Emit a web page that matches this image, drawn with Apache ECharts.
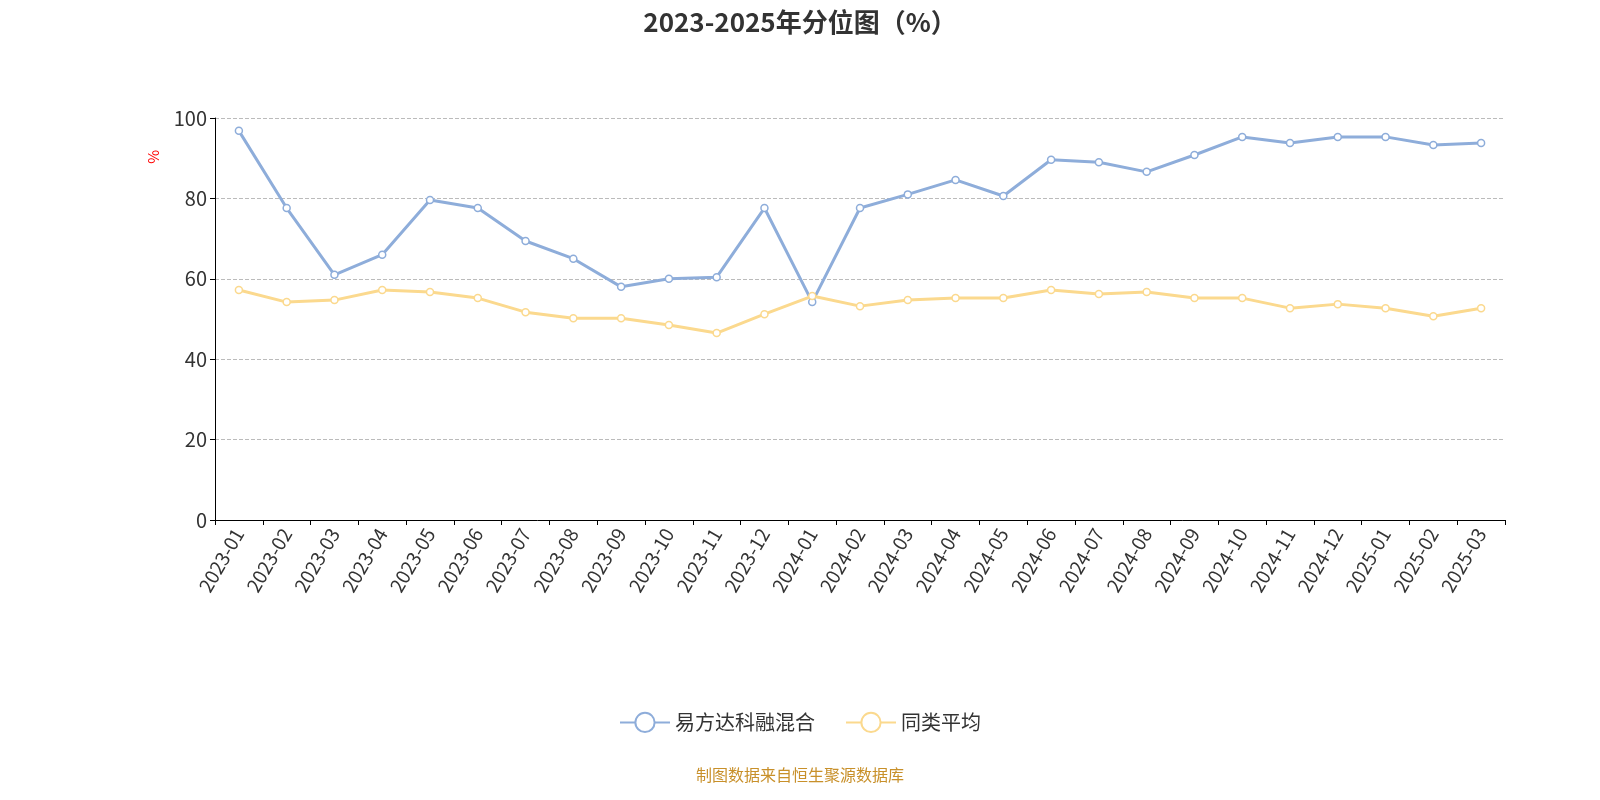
<!DOCTYPE html>
<html lang="zh">
<head>
<meta charset="UTF-8">
<title>分位图</title>
<script src="https://cdn.jsdelivr.net/npm/echarts@6/dist/echarts.min.js"></script>
</head>
<body style="margin:0;background:#fff;">
<div id="main" style="width:1600px;height:800px;"></div>
<script type="text/javascript">
var months = ['2023-01','2023-02','2023-03','2023-04','2023-05','2023-06','2023-07','2023-08','2023-09','2023-10','2023-11','2023-12',
    '2024-01','2024-02','2024-03','2024-04','2024-05','2024-06','2024-07','2024-08','2024-09','2024-10','2024-11','2024-12',
    '2025-01','2025-02','2025-03'];
var fundValues = [96.8,77.6,61,66,79.6,77.6,69.4,65,58,60,60.4,77.6,
    54.2,77.6,81,84.6,80.6,89.6,89,86.6,90.8,95.3,93.8,95.3,95.3,93.3,93.8];
var avgValues = [57.2,54.2,54.7,57.2,56.7,55.2,51.7,50.2,50.2,48.5,46.5,51.2,
    55.7,53.2,54.7,55.2,55.2,57.2,56.2,56.7,55.2,55.2,52.7,53.7,52.7,50.7,52.7];

var myChart = echarts.init(document.getElementById('main'));
var font = '"Noto Sans CJK SC", "Noto Sans", sans-serif';
var option = {
    animation: false,
    textStyle: {fontFamily: font},
    title: [{
        text: '2023-2025年分位图（%）',
        left: 'center', top: 4,
        textStyle: {fontSize: 26, fontWeight: 'bold', color: '#333'}
    }, {
        text: '制图数据来自恒生聚源数据库',
        left: 'center', top: 762,
        textStyle: {fontSize: 16, fontWeight: 'normal', color: '#c8902a'}
    }],
    graphic: [{
        type: 'text', left: 146, top: 150, rotation: Math.PI / 2,
        style: {text: '%', fill: 'red', fontSize: 15, fontFamily: font}
    }],
    legend: {
        bottom: 62, itemWidth: 50, itemHeight: 24, itemGap: 30,
        textStyle: {fontSize: 20, color: '#333'},
        data: ['易方达科融混合', '同类平均']
    },
    grid: {left: 215, right: 95, top: 118, bottom: 280},
    xAxis: {
        type: 'category', data: months,
        axisLine: {lineStyle: {color: '#000'}},
        axisTick: {show: true, lineStyle: {color: '#000'}},
        axisLabel: {rotate: 60, fontSize: 19, color: '#333', interval: 0, margin: 10}
    },
    yAxis: {
        type: 'value', min: 0, max: 100, interval: 20,
        axisLine: {show: true, lineStyle: {color: '#000'}},
        axisTick: {show: true, lineStyle: {color: '#000'}},
        axisLabel: {fontSize: 20, color: '#333'},
        splitLine: {lineStyle: {type: 'dashed', color: '#bbb'}}
    },
    series: [{
        name: '易方达科融混合', type: 'line', data: fundValues,
        symbol: 'circle', symbolSize: 7,
        lineStyle: {width: 3, color: '#8eadda'},
        itemStyle: {color: '#fff', borderColor: '#8eadda', borderWidth: 1.5}
    }, {
        name: '同类平均', type: 'line', data: avgValues,
        symbol: 'circle', symbolSize: 7,
        lineStyle: {width: 3, color: '#fbd98e'},
        itemStyle: {color: '#fff', borderColor: '#fbd98e', borderWidth: 1.5}
    }]
};
myChart.setOption(option);
</script>
</body>
</html>
